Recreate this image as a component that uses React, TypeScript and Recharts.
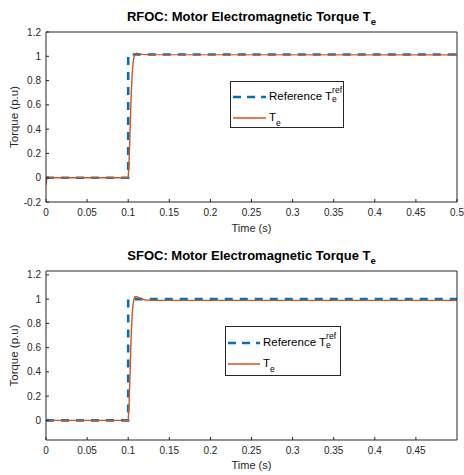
import React from 'react';
import { LineChart, Line, XAxis, YAxis, Legend, Label } from 'recharts';

// ---------- data ----------
const rfocRefTime = [0, 0.1, 0.1, 0.5];
const rfocRefValue = [0, 0, 1.015, 1.015];
const rfocTeTime = [0, 0.0005, 0.001, 0.002, 0.004, 0.1, 0.101, 0.102, 0.103, 0.104, 0.105, 0.106, 0.107, 0.108, 0.11, 0.113, 0.117, 0.125, 0.5];
const rfocTeValue = [-0.06, -0.03, -0.005, 0.005, 0, 0, 0.12, 0.32, 0.55, 0.74, 0.87, 0.95, 0.99, 1.015, 1.025, 1.022, 1.016, 1.014, 1.012];

const sfocRefTime = [0, 0.1, 0.1, 0.5];
const sfocRefValue = [0, 0, 1, 1];
const sfocTeTime = [0, 0.1, 0.101, 0.102, 0.103, 0.104, 0.105, 0.106, 0.107, 0.108, 0.11, 0.113, 0.117, 0.122, 0.13, 0.5];
const sfocTeValue = [0, 0, 0.12, 0.33, 0.56, 0.76, 0.89, 0.96, 1.0, 1.018, 1.02, 1.012, 1.0, 0.993, 0.99, 0.99];

const rfocXTicks = [0, 0.05, 0.1, 0.15, 0.2, 0.25, 0.3, 0.35, 0.4, 0.45, 0.5];
const sfocXTicks = [0, 0.05, 0.1, 0.15, 0.2, 0.25, 0.3, 0.35, 0.4, 0.45];
const rfocYTicks = [-0.2, 0, 0.2, 0.4, 0.6, 0.8, 1, 1.2];
const sfocYTicks = [0, 0.2, 0.4, 0.6, 0.8, 1, 1.2];

const rfocYDomain = [-0.2, 1.2];
const sfocYDomain = [-0.162, 1.232];
const xDomain = [0, 0.5];

const toSeries = (t: number[], v: number[]) => t.map((x, i) => ({ t: x, v: v[i] }));

// ---------- styles ----------
const FONT = '"Liberation Sans", Arial, Helvetica, sans-serif';
const AXIS = '#262626';
const BLUE = '#0072BD';
const ORANGE = '#D95319';

const tickStyle = { fontSize: 10, fill: AXIS, fontFamily: FONT };

const LegendBox = ({ w, h, row1, row2, textLeft }: { w: number; h: number; row1: number; row2: number; textLeft: number }) => (
  <div
    style={{
      width: w - 2,
      height: h - 2,
      border: '1px solid #262626',
      background: '#fff',
      fontFamily: FONT,
      fontSize: 11.5,
      color: '#000',
      position: 'relative',
    }}
  >
    <svg width={textLeft} height={h} style={{ position: 'absolute', left: 0, top: 0 }}>
      <line x1={2} x2={textLeft - 3} y1={row1} y2={row1} stroke={BLUE} strokeWidth={2.5} strokeDasharray="8 6" />
      <line x1={2} x2={textLeft - 3} y1={row2} y2={row2} stroke={ORANGE} strokeWidth={1.5} />
    </svg>
    <div style={{ position: 'absolute', left: textLeft, top: row1 - 8, whiteSpace: 'nowrap', lineHeight: '14px' }}>
      Reference T
      <span style={{ display: 'inline-flex', flexDirection: 'column', fontSize: 8.5, lineHeight: '9px', verticalAlign: 'top', marginTop: -3 }}>
        <span>ref</span>
        <span>e</span>
      </span>
    </div>
    <div style={{ position: 'absolute', left: textLeft, top: row2 - 8, whiteSpace: 'nowrap', lineHeight: '14px' }}>
      T
      <span style={{ fontSize: 8.5, position: 'relative', top: 5 }}>e</span>
    </div>
  </div>
);

type PanelProps = {
  title: string;
  refT: number[];
  refV: number[];
  teT: number[];
  teV: number[];
  xTicks: number[];
  yTicks: number[];
  yDomain: number[];
  height: number;
  marginTop: number;
  xAxisHeight: number;
  xLabelOffset: number;
  legendLeft: number;
  legendTop: number;
  legendW: number;
  legendH: number;
  legendRow1: number;
  legendRow2: number;
  legendTextLeft: number;
};

const Panel = (p: PanelProps) => {
  const refData = toSeries(p.refT, p.refV);
  const teData = toSeries(p.teT, p.teV);
  return (
    <LineChart
      width={464}
      height={p.height}
      margin={{ top: p.marginTop, right: 6, bottom: 0, left: 0 }}
      style={{ fontFamily: FONT }}
    >
      <XAxis
        xAxisId="bottom"
        dataKey="t"
        type="number"
        domain={xDomain}
        ticks={p.xTicks}
        allowDataOverflow
        height={p.xAxisHeight}
        tickSize={-3}
        tickMargin={9.5}
        tick={tickStyle}
        stroke={AXIS}
        tickFormatter={(v: number) => String(v)}
      >
        <Label
          value="Time (s)"
          position="insideBottom"
          offset={p.xLabelOffset}
          style={{ fontSize: 11, fill: AXIS, fontFamily: FONT }}
        />
      </XAxis>
      <XAxis
        xAxisId="top"
        orientation="top"
        dataKey="t"
        type="number"
        domain={xDomain}
        ticks={p.xTicks}
        allowDataOverflow
        height={1}
        tickSize={-3}
        tick={false}
        stroke={AXIS}
      >
        <Label
          position="top"
          content={(props: any) => {
            const vb = props.viewBox || { x: 46, y: 31, width: 411 };
            const cx = vb.x + vb.width / 2;
            return (
              <text
                x={cx}
                y={vb.y - 10}
                textAnchor="middle"
                fontFamily={FONT}
                fontSize={13}
                fontWeight="bold"
                fill="#000"
              >
                {p.title}
                <tspan dy={4} fontSize={9.5}>e</tspan>
              </text>
            );
          }}
        />
      </XAxis>
      <YAxis
        yAxisId="left"
        type="number"
        domain={p.yDomain}
        ticks={p.yTicks}
        allowDataOverflow
        width={46}
        tickSize={-3}
        tickMargin={8}
        tick={tickStyle}
        stroke={AXIS}
        tickFormatter={(v: number) => String(v)}
      >
        <Label
          value="Torque (p.u)"
          angle={-90}
          position="insideLeft"
          offset={13.5}
          style={{ fontSize: 11.5, fill: AXIS, fontFamily: FONT, textAnchor: 'middle' }}
        />
      </YAxis>
      <YAxis
        yAxisId="right"
        orientation="right"
        type="number"
        domain={p.yDomain}
        ticks={p.yTicks}
        allowDataOverflow
        width={1}
        tickSize={-3}
        tick={false}
        stroke={AXIS}
      />
      <Legend
        layout="vertical"
        align="center"
        verticalAlign="middle"
        wrapperStyle={{ left: p.legendLeft, top: p.legendTop, width: p.legendW, height: p.legendH }}
        content={() => (
          <LegendBox w={p.legendW} h={p.legendH} row1={p.legendRow1} row2={p.legendRow2} textLeft={p.legendTextLeft} />
        )}
      />
      <Line
        xAxisId="bottom"
        yAxisId="left"
        data={refData}
        dataKey="v"
        type="linear"
        stroke={BLUE}
        strokeWidth={2.6}
        strokeDasharray="8 7"
        dot={false}
        isAnimationActive={false}
        name="Reference"
      />
      <Line
        xAxisId="bottom"
        yAxisId="left"
        data={teData}
        dataKey="v"
        type="linear"
        stroke={ORANGE}
        strokeWidth={1.4}
        dot={false}
        isAnimationActive={false}
        name="Te"
      />
    </LineChart>
  );
};

export default function App() {
  return (
    <div style={{ position: 'absolute', left: 0, top: 0, width: 464, height: 475, background: '#fff' }}>
      <div style={{ position: 'absolute', left: 0, top: 0 }}>
        <Panel
          title="RFOC: Motor Electromagnetic Torque T"
          refT={rfocRefTime}
          refV={rfocRefValue}
          teT={rfocTeTime}
          teV={rfocTeValue}
          xTicks={rfocXTicks}
          yTicks={rfocYTicks}
          yDomain={rfocYDomain}
          height={235}
          marginTop={31}
          xAxisHeight={33}
          xLabelOffset={3}
          legendLeft={230}
          legendTop={81}
          legendW={114}
          legendH={47}
          legendRow1={15}
          legendRow2={36}
          legendTextLeft={38}
        />
      </div>
      <div style={{ position: 'absolute', left: 0, top: 235 }}>
        <Panel
          title="SFOC: Motor Electromagnetic Torque T"
          refT={sfocRefTime}
          refV={sfocRefValue}
          teT={sfocTeTime}
          teV={sfocTeValue}
          xTicks={sfocXTicks}
          yTicks={sfocYTicks}
          yDomain={sfocYDomain}
          height={240}
          marginTop={35}
          xAxisHeight={35}
          xLabelOffset={6}
          legendLeft={225}
          legendTop={91}
          legendW={116}
          legendH={50}
          legendRow1={16}
          legendRow2={37}
          legendTextLeft={37}
        />
      </div>
    </div>
  );
}
